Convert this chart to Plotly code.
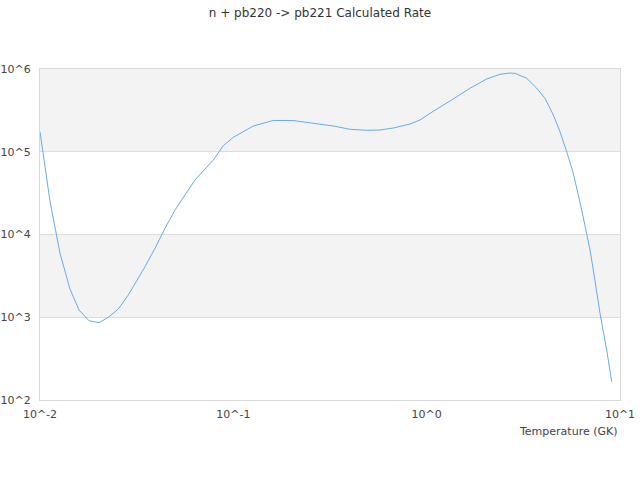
import plotly.graph_objects as go

title_text = "n + pb220 -> pb221 Calculated Rate"
x_label = "Temperature (GK)"

temperature = [0.0100, 0.01126, 0.01269, 0.01429, 0.01591, 0.01793, 0.02020, 0.02256,
               0.02541, 0.02862, 0.03492, 0.03934, 0.04432, 0.04993, 0.06333, 0.07877,
               0.08872, 0.1000, 0.1269, 0.1609, 0.2043, 0.2492, 0.3040, 0.3290,
               0.4014, 0.4896, 0.5738, 0.6722, 0.8200, 0.9237, 1.041, 1.172,
               1.320, 1.676, 2.045, 2.395, 2.698, 2.863, 3.292, 3.709,
               4.094, 4.519, 4.894, 5.300, 5.734, 6.339, 6.998, 7.278,
               7.881, 8.535, 9.060]
rate = [1.747e5, 2.540e4, 5.927e3, 2.195e3, 1.224e3, 908.5, 859.5, 998.6,
        1258, 1857, 4082, 6812, 1.188e4, 1.978e4, 4.555e4, 7.950e4,
        1.183e5, 1.495e5, 2.048e5, 2.39e5, 2.38e5, 2.245e5, 2.105e5, 2.048e5,
        1.867e5, 1.816e5, 1.831e5, 1.936e5, 2.164e5, 2.419e5, 2.915e5, 3.445e5,
        4.105e5, 5.846e5, 7.573e5, 8.630e5, 8.946e5, 8.872e5, 7.721e5, 5.846e5,
        4.425e5, 2.781e5, 1.747e5, 1.001e5, 5.490e4, 1.978e4, 6.496e3, 3.724e3,
        1.116e3, 401.9, 166.4]

x_tickvals = [0.01, 0.1, 1, 10]
x_ticktext = ["10^-2", "10^-1", "10^0", "10^1"]
y_tickvals = [1e2, 1e3, 1e4, 1e5, 1e6]
y_ticktext = ["10^2", "10^3", "10^4", "10^5", "10^6"]
shaded_bands = [(1e3, 1e4), (1e5, 1e6)]

fig = go.Figure()
fig.add_trace(go.Scatter(x=temperature, y=rate, mode="lines",
                         line=dict(color="#66aaf2", width=1),
                         showlegend=False, hoverinfo="x+y"))

for lo, hi in shaded_bands:
    fig.add_shape(type="rect", xref="paper", yref="y", x0=0, x1=1, y0=lo, y1=hi,
                  fillcolor="#f3f3f3", line=dict(width=0), layer="below")

W, H = 640, 480
fig.update_layout(
    width=W, height=H,
    margin=dict(l=40, r=20, t=69, b=80, autoexpand=False),
    paper_bgcolor="white", plot_bgcolor="white",
    font=dict(family="DejaVu Sans", size=11, color="#444"),
    title=dict(text=title_text, x=0.5, xanchor="center", y=1 - 13 / H,
               yanchor="middle", yref="container",
               font=dict(family="DejaVu Sans", size=12, color="#333")),
    xaxis=dict(type="log", range=[-2, 1], tickvals=x_tickvals, ticktext=x_ticktext,
               showgrid=False, zeroline=False, showline=True, linecolor="#d9d9d9",
               linewidth=1, mirror=True, ticks="", ticklabelstandoff=4,
               automargin=False),
    yaxis=dict(type="log", range=[2, 6], tickvals=y_tickvals, ticktext=y_ticktext,
               showgrid=True, gridcolor="#dddddd", gridwidth=1, zeroline=False,
               showline=True, linecolor="#d9d9d9", linewidth=1, mirror=True,
               ticks="", ticklabelstandoff=6, automargin=False),
    annotations=[dict(text=x_label, xref="paper", yref="paper", x=1, y=0,
                      xanchor="right", yanchor="top", yshift=-23, showarrow=False,
                      font=dict(family="DejaVu Sans", size=11, color="#444"))],
)

fig.write_html("out.html",
               config={"displayModeBar": False},
               post_script="document.body.style.margin='0px';"
                           "document.body.style.overflow='hidden';")
